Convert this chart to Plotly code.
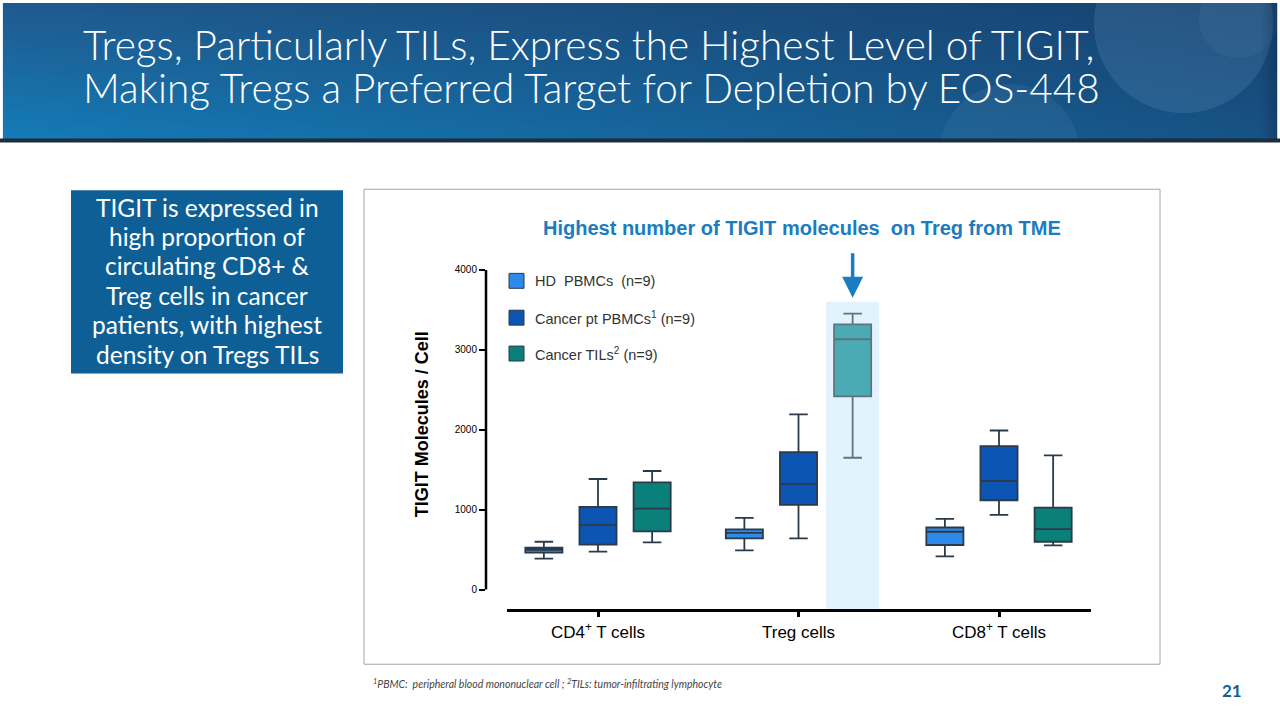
import numpy as np
import plotly.graph_objects as go

# ---------------- data ----------------
categories = ["CD4<sup>+</sup> T cells", "Treg cells", "CD8<sup>+</sup> T cells"]
series_names = ["HD  PBMCs  (n=9)", "Cancer pt PBMCs<sup>1</sup> (n=9)", "Cancer TILs<sup>2</sup> (n=9)"]

hd_low = [386, 490, 415]
hd_q1 = [461, 640, 557]
hd_med = [498, 710, 723]
hd_q3 = [523, 752, 776]
hd_high = [598, 897, 885]

pbmc_low = [474, 640, 935]
pbmc_q1 = [561, 1059, 1117]
pbmc_med = [810, 1321, 1358]
pbmc_q3 = [1034, 1720, 1794]
pbmc_high = [1383, 2193, 1990]

til_low = [589, 1649, 552]
til_q1 = [727, 2417, 598]
til_med = [1013, 3132, 756]
til_q3 = [1342, 3318, 1026]
til_high = [1483, 3452, 1678]

y_ticks = [0, 1000, 2000, 3000, 4000]
highlight_group = 1  # Treg cells, TILs

# ---------------- styling ----------------
W, H = 1280, 720
colors = ["#2d8ae9", "#0c55b3", "#0b7f7a"]
highlight_color = "#4aabb5"
offsets = [-0.27, 0.0, 0.27]
box_w = 0.185
FONT_SLIDE = "Lato, Noto Sans"
FONT_CHART = "Liberation Sans, Arial"


def px_x(p):
    return p / W


def px_y(p):
    return 1 - p / H


fig = go.Figure()

# ---------- banner as image (gradient) ----------
bh, bw = 138, 1280
yy, xx = np.mgrid[0:bh, 0:bw].astype(float)
t = xx / (bw - 1)
s = yy / (bh - 1)
TL = np.array([32, 90, 142]); TR = np.array([22, 66, 112])
BL = np.array([20, 124, 184]); BR = np.array([24, 82, 132])
img = (TL[None, None] * ((1 - t) * (1 - s))[..., None] + TR[None, None] * (t * (1 - s))[..., None]
       + BL[None, None] * ((1 - t) * s)[..., None] + BR[None, None] * (t * s)[..., None])
for cx, cy, r, a in [(1185, 20, 90, 0.18), (1240, 15, 40, 0.08), (1010, 150, 70, 0.10)]:
    d = np.sqrt((xx - cx) ** 2 + (yy - cy) ** 2)
    al = np.clip(r - d, 0, 1)[..., None] * a
    img = img * (1 - al) + np.array([120, 170, 210])[None, None] * al
edge = np.clip((xx - 1262) / 18, 0, 1)[..., None] * 0.35
img = img * (1 - edge) + np.array([10, 35, 65])[None, None] * edge
img = np.clip(img, 0, 255).astype(np.uint8)
fig.add_trace(go.Image(z=img, x0=0.5, y0=0.5, dx=1, dy=1, xaxis="x2", yaxis="y2", hoverinfo="skip"))


# ---------- box plots ----------
def add_boxes(idx_list, series_i, low, q1, med, q3, high, fill, line):
    fig.add_trace(go.Box(
        x=[g + offsets[series_i] for g in idx_list],
        lowerfence=[low[g] for g in idx_list],
        q1=[q1[g] for g in idx_list],
        median=[med[g] for g in idx_list],
        q3=[q3[g] for g in idx_list],
        upperfence=[high[g] for g in idx_list],
        fillcolor=fill, line=dict(color=line, width=1.8),
        width=box_w, whiskerwidth=0.5, boxpoints=False,
        name=series_names[series_i], showlegend=False, xaxis="x", yaxis="y",
    ))


groups = list(range(len(categories)))
add_boxes(groups, 0, hd_low, hd_q1, hd_med, hd_q3, hd_high, colors[0], "#2b3a4a")
add_boxes(groups, 1, pbmc_low, pbmc_q1, pbmc_med, pbmc_q3, pbmc_high, colors[1], "#2b3a4a")
add_boxes([g for g in groups if g != highlight_group], 2, til_low, til_q1, til_med, til_q3, til_high,
          colors[2], "#2b3a4a")
add_boxes([highlight_group], 2, til_low, til_q1, til_med, til_q3, til_high, highlight_color, "#5d7580")

shapes = []
annotations = []

# highlight band behind Treg TILs
hx = highlight_group + offsets[2]
shapes.append(dict(type="rect", xref="x", yref="y", x0=hx - 0.132, x1=hx + 0.132, y0=-262, y1=3600,
                   fillcolor="#e3f3fd", line=dict(width=0), layer="below"))

# axis lines (Prism style)
shapes.append(dict(type="line", xref="paper", yref="y", x0=px_x(486), x1=px_x(486), y0=0, y1=4000,
                   line=dict(color="black", width=2.5)))
shapes.append(dict(type="line", xref="paper", yref="paper", x0=px_x(507), x1=px_x(1091), y0=px_y(610),
                   y1=px_y(610), line=dict(color="black", width=3)))

# arrow
annotations.append(dict(x=hx, y=3650, xref="x", yref="y", ax=0, ay=-46, axref="pixel", ayref="pixel",
                        showarrow=True, arrowhead=2, arrowsize=1.2, arrowwidth=3.5, arrowcolor="#1a7cc1",
                        text=""))

# chart frame
shapes.append(dict(type="rect", xref="paper", yref="paper", x0=px_x(364), x1=px_x(1160), y0=px_y(664),
                   y1=px_y(187), line=dict(color="#a6a6a6", width=1), layer="below"))

# banner bottom dark line
shapes.append(dict(type="rect", xref="paper", yref="paper", x0=0, x1=1, y0=px_y(140), y1=px_y(136),
                   fillcolor="#1d2d3d", line=dict(width=0)))

# left text box
shapes.append(dict(type="rect", xref="paper", yref="paper", x0=px_x(71), x1=px_x(343), y0=px_y(372),
                   y1=px_y(188), fillcolor="#0f5f97", line=dict(width=0)))
left_lines = ["TIGIT is expressed in", "high proportion of", "circulating CD8+ &amp;",
              "Treg cells in cancer", "patients, with highest", "density on Tregs TILs"]
for i, ln in enumerate(left_lines):
    annotations.append(dict(x=px_x(207), y=px_y(205 + i * 29.5), xref="paper", yref="paper",
                            xanchor="center", yanchor="middle", showarrow=False, text=ln,
                            font=dict(family=FONT_SLIDE, size=24.5, color="white")))

# title (two lines)
title_lines = ["Tregs, Particularly TILs, Express the Highest Level of TIGIT,",
               "Making Tregs a Preferred Target for Depletion by EOS-448"]
for i, ln in enumerate(title_lines):
    annotations.append(dict(x=px_x(81), y=px_y(42 + i * 43), xref="paper", yref="paper", xanchor="left",
                            yanchor="middle", showarrow=False, text=ln,
                            font=dict(family=FONT_SLIDE, size=40.5, color="white", weight=300)))

# chart subtitle
annotations.append(dict(x=px_x(802), y=px_y(226), xref="paper", yref="paper", xanchor="center",
                        yanchor="middle", showarrow=False,
                        text="<b>Highest number of TIGIT molecules  on Treg from TME</b>",
                        font=dict(family=FONT_CHART, size=20, color="#1a7cc1")))

# y-axis title
annotations.append(dict(x=px_x(422), y=px_y(423), xref="paper", yref="paper", xanchor="center",
                        yanchor="middle", showarrow=False, textangle=-90,
                        text="<b>TIGIT Molecules / Cell</b>",
                        font=dict(family=FONT_CHART, size=18, color="black")))

# manual legend
leg_y = [279, 316, 352]
for i, name in enumerate(series_names):
    shapes.append(dict(type="rect", xref="paper", yref="paper", x0=px_x(509), x1=px_x(524),
                       y0=px_y(leg_y[i] + 7.5), y1=px_y(leg_y[i] - 7.5), fillcolor=colors[i],
                       line=dict(color="#2b3a4a", width=1)))
    annotations.append(dict(x=px_x(533), y=px_y(leg_y[i]), xref="paper", yref="paper", xanchor="left",
                            yanchor="middle", showarrow=False, text=name,
                            font=dict(family=FONT_CHART, size=14.5, color="#333333")))

# footnote
annotations.append(dict(x=px_x(371), y=px_y(683), xref="paper", yref="paper", xanchor="left",
                        yanchor="middle", showarrow=False,
                        text="<i><sup>1</sup>PBMC:  peripheral blood mononuclear cell ; <sup>2</sup>TILs: "
                             "tumor-infiltrating lymphocyte</i>",
                        font=dict(family=FONT_SLIDE, size=10.5, color="#444444")))

# page number
annotations.append(dict(x=px_x(1232), y=px_y(690), xref="paper", yref="paper", xanchor="center",
                        yanchor="middle", showarrow=False,
                        text="<b>21</b>", font=dict(family=FONT_SLIDE, size=17, color="#0f5f97")))

x_lo = (486 - 598) / 200.5
x_hi = (1090 - 598) / 200.5

fig.update_layout(
    width=W, height=H, margin=dict(l=0, r=0, t=0, b=0),
    paper_bgcolor="white", plot_bgcolor="rgba(0,0,0,0)",
    showlegend=False,
    xaxis=dict(domain=[px_x(486), px_x(1090)], range=[x_lo, x_hi], tickmode="array",
               tickvals=groups, ticktext=categories, ticks="outside", ticklen=6, tickwidth=2.5,
               tickcolor="black", showline=False, showgrid=False, zeroline=False,
               tickfont=dict(family=FONT_CHART, size=17, color="black")),
    yaxis=dict(domain=[px_y(610), px_y(266)], range=[-262, 4025], tickmode="array", tickvals=y_ticks,
               ticktext=[str(v) for v in y_ticks], ticks="outside", ticklen=6, tickwidth=2,
               tickcolor="black", showline=False, showgrid=False, zeroline=False,
               tickfont=dict(family=FONT_CHART, size=10, color="black")),
    xaxis2=dict(domain=[0, 1], range=[0, 1280], visible=False, anchor="y2"),
    yaxis2=dict(domain=[px_y(138), 1], range=[138, 0], visible=False, anchor="x2"),
    shapes=shapes, annotations=annotations,
)

fig.write_html("out.html", config={"displayModeBar": False},
               post_script="document.body.style.margin='0';")
